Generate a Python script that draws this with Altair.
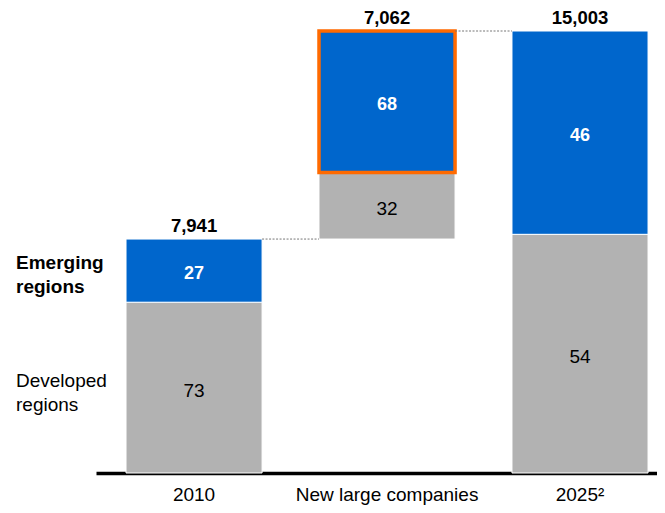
import altair as alt
import pandas as pd

categories = ["2010", "New large companies", "2025²"]
totals = [7941, 7062, 15003]
bases = [0, 7941, 0]
developed_pct = [73, 32, 54]
emerging_pct = [27, 68, 46]
highlighted = [False, True, False]
series_names = ["Developed\nregions", "Emerging\nregions"]

GRAY = "#B2B2B2"
BLUE = "#0066CC"
ORANGE = "#FF6A00"
FONT = "Liberation Sans"

rows = []
for c, t, b, d, e, h in zip(categories, totals, bases, developed_pct, emerging_pct, highlighted):
    d_end = b + t * d / 100.0
    top = b + t
    rows.append(dict(cat=c, seg=series_names[0], start=b, end=d_end, mid=(b + d_end) / 2,
                     label=str(d), color=GRAY, stroke="white", sw=1))
    rows.append(dict(cat=c, seg=series_names[1], start=d_end, end=top, mid=(d_end + top) / 2,
                     label=str(e), color=BLUE, stroke=ORANGE if h else "white", sw=3.5 if h else 1))
seg_df = pd.DataFrame(rows)

tot_df = pd.DataFrame({
    "cat": categories,
    "top": [b + t for b, t in zip(bases, totals)],
    "label": [f"{t:,}" for t in totals],
})

conn_df = pd.DataFrame({
    "from": categories[:-1],
    "to": categories[1:],
    "y": [bases[i] + totals[i] for i in range(len(categories) - 1)],
})

xscale = alt.Scale(domain=categories, paddingInner=0.295, paddingOuter=0.101, align=0.77)
yscale = alt.Scale(domain=[0, totals[-1]], nice=False, zero=True)

bars = alt.Chart(seg_df).mark_bar().encode(
    x=alt.X("cat:N", scale=xscale, sort=categories, title=None,
            axis=alt.Axis(labelAngle=0, labelFont=FONT, labelFontSize=19, labelColor="black",
                          labelLimit=400, ticks=False, domainColor="black", domainWidth=3.5,
                          labelPadding=12)),
    y=alt.Y("start:Q", scale=yscale, axis=None),
    y2="end:Q",
    color=alt.Color("color:N", scale=None),
    stroke=alt.Stroke("stroke:N", scale=None),
    strokeWidth=alt.StrokeWidth("sw:Q", scale=None),
)

gray_labels = alt.Chart(seg_df[seg_df.seg == series_names[0]]).mark_text(
    font=FONT, fontSize=19, color="black", baseline="middle", dy=3
).encode(
    x=alt.X("cat:N", scale=xscale, sort=categories),
    y=alt.Y("mid:Q", scale=yscale),
    text="label:N",
)

blue_labels = alt.Chart(seg_df[seg_df.seg == series_names[1]]).mark_text(
    font=FONT, fontSize=18, fontWeight="bold", color="white", baseline="middle", dy=3
).encode(
    x=alt.X("cat:N", scale=xscale, sort=categories),
    y=alt.Y("mid:Q", scale=yscale),
    text="label:N",
)

tot_labels = alt.Chart(tot_df).mark_text(
    font=FONT, fontSize=18.5, fontWeight="bold", color="black", baseline="middle", dy=-13
).encode(
    x=alt.X("cat:N", scale=xscale, sort=categories),
    y=alt.Y("top:Q", scale=yscale),
    text="label:N",
)

connectors = alt.Chart(conn_df).mark_rule(color="#777777", strokeDash=[2, 1.5], strokeWidth=1).encode(
    x=alt.X("from:N", scale=xscale, sort=categories, bandPosition=1),
    x2=alt.X2("to:N", bandPosition=0),
    y=alt.Y("y:Q", scale=yscale),
)

first = seg_df[seg_df.cat == categories[0]]
dev_side = alt.Chart(first[first.seg == series_names[0]]).mark_text(
    font=FONT, fontSize=19, color="black", align="left", baseline="middle",
    lineBreak="\n", lineHeight=24, dy=-7
).encode(
    x=alt.value(-80),
    y=alt.Y("mid:Q", scale=yscale),
    text="seg:N",
)
emg_side = alt.Chart(first[first.seg == series_names[1]]).mark_text(
    font=FONT, fontSize=19, fontWeight="bold", color="black", align="left", baseline="middle",
    lineBreak="\n", lineHeight=24, dy=-8
).encode(
    x=alt.value(-80),
    y=alt.Y("mid:Q", scale=yscale),
    text="seg:N",
)

chart = alt.layer(bars, connectors, gray_labels, blue_labels, tot_labels, dev_side, emg_side).properties(
    width=561, height=442,
    padding={"left": 88, "top": 23, "right": 0, "bottom": 32},
    autosize="none",
    background="white",
).configure_view(stroke=None)

chart.save("out.html", embed_options={"renderer": "svg", "actions": False})
